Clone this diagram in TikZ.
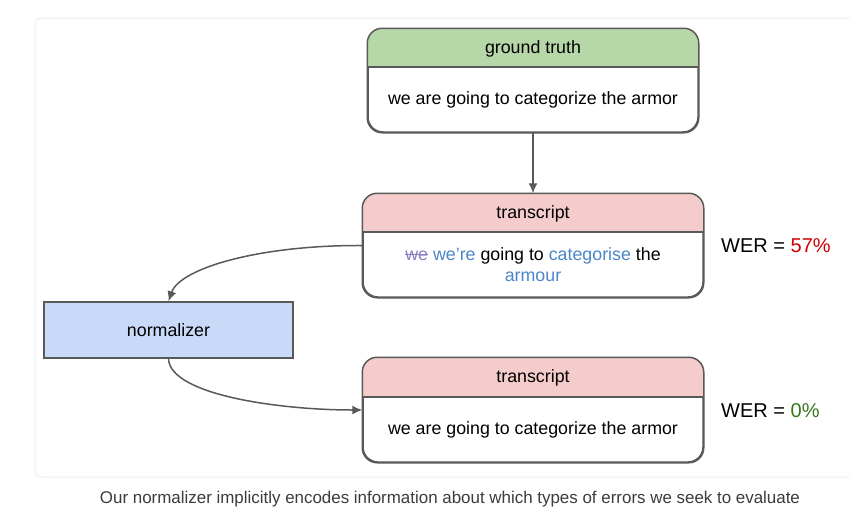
\documentclass[tikz,border=0pt]{standalone}
\usepackage{fontspec}
\setmainfont{Liberation Sans}
\usepackage{graphicx}
\usetikzlibrary{arrows.meta}
\definecolor{edge}{HTML}{595959}
\definecolor{hgreen}{HTML}{B6D7A8}
\definecolor{hpink}{HTML}{F4CCCC}
\definecolor{nblue}{HTML}{C9DAF8}
\definecolor{tblue}{HTML}{4A86C8}
\definecolor{tpurple}{HTML}{8E7CC3}
\definecolor{wred}{HTML}{CC0000}
\definecolor{wgreen}{HTML}{38761D}
\definecolor{panel}{HTML}{EEEEEE}
\definecolor{captc}{HTML}{3C3C3C}
\newlength\strikewd
\newcommand\strikeword[1]{\settowidth\strikewd{#1}\rlap{#1}\rule[0.3em]{\strikewd}{1.3pt}}
\begin{document}
\begin{tikzpicture}[x=1pt,y=-1pt,
  card/.style={draw=edge, line width=1.5pt, fill=white, rounded corners=15pt, inner sep=0pt},
  boxtext/.style={font=\fontsize{17.8}{21}\selectfont, text=black, inner sep=0pt, align=center},
  wer/.style={font=\fontsize{20}{24}\selectfont, text=black, inner sep=0pt},
  conn/.style={draw=edge, line width=1.5pt, -{Latex[length=10pt,width=9pt]}}
]
\useasboundingbox (0,0) rectangle (850,530);
\fill[white] (0,0) rectangle (850,530);
\draw[panel, line width=1pt, rounded corners=5pt] (35,18) rectangle (860,477);

% ground truth card
\node[card, minimum width=330pt, minimum height=103pt] (gt) at (533,80.5) {};
\begin{scope}
\clip[rounded corners=15pt] (gt.north west) rectangle (gt.south east);
\fill[hgreen] (gt.north west) rectangle (gt.east |- 0,67);
\end{scope}
\draw[edge, line width=1.5pt] (gt.west |- 0,67) -- (gt.east |- 0,67);
\draw[edge, line width=1.5pt, rounded corners=15pt] (gt.north west) rectangle (gt.south east);
\node[boxtext] (gth) at (533,49) {ground truth};
\node[boxtext] (gtb) at (533,100) {we are going to categorize the armor};

% transcript 1
\node[card, minimum width=340pt, minimum height=103pt] (tr1) at (533,245.5) {};
\begin{scope}
\clip[rounded corners=15pt] (tr1.north west) rectangle (tr1.south east);
\fill[hpink] (tr1.north west) rectangle (tr1.east |- 0,232);
\end{scope}
\draw[edge, line width=1.5pt] (tr1.west |- 0,232) -- (tr1.east |- 0,232);
\draw[edge, line width=1.5pt, rounded corners=15pt] (tr1.north west) rectangle (tr1.south east);
\node[boxtext] (tr1h) at (533,214) {transcript};
\node[boxtext] (tr1b) at (533,264.5) {\textcolor{tpurple}{\strikeword{we}} \textcolor{tblue}{we’re} going to \textcolor{tblue}{categorise} the\\[0pt]\textcolor{tblue}{armour}};

% transcript 2
\node[card, minimum width=340pt, minimum height=104pt] (tr2) at (533,410) {};
\begin{scope}
\clip[rounded corners=15pt] (tr2.north west) rectangle (tr2.south east);
\fill[hpink] (tr2.north west) rectangle (tr2.east |- 0,397);
\end{scope}
\draw[edge, line width=1.5pt] (tr2.west |- 0,397) -- (tr2.east |- 0,397);
\draw[edge, line width=1.5pt, rounded corners=15pt] (tr2.north west) rectangle (tr2.south east);
\node[boxtext] (tr2h) at (533,378) {transcript};
\node[boxtext] (tr2b) at (533,430) {we are going to categorize the armor};

% normalizer
\node[draw=edge, line width=1.5pt, fill=nblue, minimum width=249pt, minimum height=56pt, inner sep=0pt, boxtext] (norm) at (168.5,330) {normalizer};

% WER labels
\node[wer, anchor=west] (w1) at (721,246) {WER = \textcolor{wred}{57\%}};
\node[wer, anchor=west] (w2) at (721,411) {WER = \textcolor{wgreen}{0\%}};

% connectors
\draw[conn] (gt.south) -- (tr1.north);
\draw[conn] (tr1.west) .. controls (260,245) and (180,268) .. (norm.north);
\draw[conn] (norm.south) .. controls (170,395) and (280,410) .. (tr2.west);

% caption
\node[inner sep=0pt, text=captc, font=\fontsize{17}{20}\selectfont] (cap) at (450,499) {\resizebox{700pt}{\height}{Our normalizer implicitly encodes information about which types of errors we seek to evaluate}};
\end{tikzpicture}
\end{document}
